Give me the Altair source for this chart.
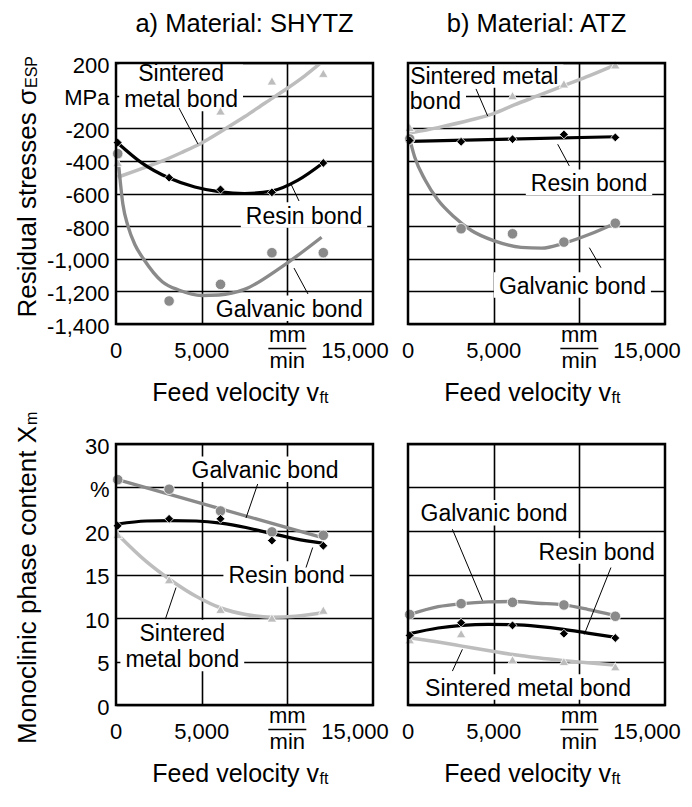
import altair as alt
import pandas as pd

FONT = "Liberation Sans"
W, H = 257, 261
SERIES = ["Resin bond", "Galvanic bond", "Sintered metal bond"]
LINE_COLORS = ["#000000", "#8a8a8a", "#bdbdbd"]

# ---------------- measured points ----------------
VFT = [100, 3100, 6100, 9100, 12100]            # feed velocity, mm/min
VFT_SINT_RS = [100, 6100, 9100, 12100]          # sintered bond, residual stress series

# residual stresses sigma_ESP, MPa
RS_SHYTZ_RESIN = [-288, -503, -575, -593, -413]
RS_SHYTZ_GALV = [-356, -1259, -1157, -963, -963]
RS_SHYTZ_SINT = [-410, -94, 90, 137]
RS_ATZ_RESIN = [-275, -283, -267, -238, -256]
RS_ATZ_GALV = [-266, -816, -847, -898, -782]
RS_ATZ_SINT = [-195, 0, 72, 189]

# monoclinic phase content X_m, %
XM_SHYTZ_GALV = [25.9, 24.8, 22.3, 19.9, 19.5]
XM_SHYTZ_RESIN = [20.6, 21.4, 21.4, 18.9, 18.3]
XM_SHYTZ_SINT = [19.6, 14.4, 11.0, 10.0, 10.9]
XM_ATZ_GALV = [10.4, 11.65, 11.8, 11.5, 10.2]
XM_ATZ_RESIN = [8.0, 9.46, 9.15, 8.2, 7.7]
XM_ATZ_SINT = [7.5, 8.2, 5.2, 5.0, 4.4]

# ---------------- trend curves ----------------
C_RS_SHYTZ_RESIN_X = [100, 1500, 3100, 4600, 6100, 7500, 9100, 10600, 12100]
C_RS_SHYTZ_RESIN_Y = [-290, -412, -505, -560, -590, -600, -585, -520, -412]
C_RS_SHYTZ_GALV_X = [150, 400, 700, 1100, 1600, 2700, 3700, 5000, 6000, 7500, 9500, 12000]
C_RS_SHYTZ_GALV_Y = [-420, -665, -800, -913, -1000, -1141, -1193, -1225, -1222, -1188, -1062, -868]
C_RS_SHYTZ_SINT_X = [100, 1300, 2600, 3800, 5000, 6200, 7500, 8700, 10000, 11000, 12000]
C_RS_SHYTZ_SINT_Y = [-500, -455, -405, -350, -290, -215, -130, -45, 45, 120, 205]

C_RS_ATZ_RESIN_X = [100, 12100]
C_RS_ATZ_RESIN_Y = [-280, -252]
C_RS_ATZ_GALV_X = [100, 400, 1000, 1750, 2700, 3700, 5000, 6600, 7800, 9100, 10600, 12100]
C_RS_ATZ_GALV_Y = [-266, -380, -517, -640, -744, -827, -889, -930, -935, -905, -850, -782]
C_RS_ATZ_SINT_X = [100, 1750, 3700, 5000, 6200, 7700, 9200, 10600, 12100]
C_RS_ATZ_SINT_Y = [-230, -196, -148, -110, -57, 4, 66, 123, 189]

C_XM_X = [100, 1760, 3160, 4670, 6120, 7580, 9090, 10480, 12040]
C_XM_SHYTZ_GALV_X = [100, 12100]
C_XM_SHYTZ_GALV_Y = [25.9, 19.2]
C_XM_SHYTZ_RESIN_Y = [20.8, 21.15, 21.2, 21.15, 20.9, 20.4, 19.7, 19.1, 18.6]
C_XM_SHYTZ_SINT_Y = [19.6, 16.5, 14.4, 12.5, 11.15, 10.4, 10.1, 10.2, 10.6]
C_XM_ATZ_GALV_Y = [10.4, 11.3, 11.65, 11.85, 11.9, 11.7, 11.5, 11.0, 10.3]
C_XM_ATZ_RESIN_Y = [8.2, 8.85, 9.15, 9.27, 9.23, 9.04, 8.7, 8.27, 7.8]
C_XM_ATZ_SINT_Y = [7.73, 7.23, 6.77, 6.27, 5.8, 5.42, 5.1, 4.85, 4.6]

# ---------------- annotations (data units; y = first baseline) ----------------
NOTES_RS_SHYTZ = [("Sintered\nmetal bond", 3800, 88),
                  ("Resin bond", 10973, -785), ("Galvanic bond", 10117, -1357)]
LEAD_RS_SHYTZ = [(3677, -76, 4786, -297), (10214, -542, 10681, -646), (10389, -1057, 11206, -1216)]
NOTES_RS_ATZ = [("Sintered metal", 4454, 73), ("bond", 1599, -84),
                ("Resin bond", 10565, -585), ("Galvanic bond", 9596, -1214)]
LEAD_RS_ATZ = [(3969, 41, 4651, -125), (8737, -298, 9416, -431), (10584, -932, 11265, -1055)]
NOTES_XM_SHYTZ = [("Galvanic bond", 8697, 26.1), ("Resin bond", 9958, 14.06),
                  ("Sintered\nmetal bond", 3870, 7.34)]
LEAD_XM_SHYTZ = [(8269, 25.4, 7588, 21.5), (11090, 15.8, 11479, 18.1), (2880, 9.87, 3502, 13.5)]
NOTES_XM_ATZ = [("Galvanic bond", 5020, 21.1), ("Resin bond", 11015, 16.7),
                ("Sintered metal bond", 7004, 1.07)]
LEAD_XM_ATZ = [(2591, 20.2, 4344, 12.0), (11845, 15.8, 10286, 8.1), (2591, 3.9, 3175, 6.4)]

XTICK_VALUES = [0, 5000]
XTICK_TEXT = ["0", "5,000"]

NOTE_FS = 23
NOTE_LH = 26
# approximate Helvetica/Arial advance widths (em) used to size the white label boxes
ADV = {"S": .667, "i": .222, "n": .556, "t": .278, "e": .556, "r": .333, "d": .556, " ": .278,
       "m": .833, "a": .556, "l": .222, "b": .556, "o": .556, "R": .722, "s": .5, "G": .778,
       "v": .5, "c": .5}


def box_path(text):
    lines = text.split("\n")
    w = max(sum(ADV.get(ch, .556) for ch in ln) for ln in lines) * NOTE_FS
    half = w / 2 + 5
    top = -0.716 * NOTE_FS - 5
    bottom = (len(lines) - 1) * NOTE_LH + 4
    return f"M{-half:.1f},{top:.1f}H{half:.1f}V{bottom:.1f}H{-half:.1f}Z"


def panel(kind, pts, curves, notes, leads, title, left):
    if kind == "rs":
        ydom = [-1400, 200]
        yvals = list(range(-1400, 201, 200))
        lab = ("datum.value == 0 ? 'MPa' : (datum.value < 0 ? '-' + format(-datum.value, ',') "
               ": format(datum.value, ','))")
    else:
        ydom = [0, 30]
        yvals = list(range(0, 31, 5))
        lab = "datum.value == 25 ? '%' : format(datum.value, 'd')"
    xs = alt.Scale(domain=[0, 15000], nice=False, zero=False)
    ys = alt.Scale(domain=ydom, nice=False, zero=False)
    xaxis = alt.Axis(values=[5000, 10000], labels=False, ticks=False, domain=False, grid=True,
                     gridColor="black", gridWidth=1.6, gridOpacity=1, title=None)
    yaxis = alt.Axis(values=yvals, labels=left, labelExpr=lab, ticks=False, domain=False, grid=True,
                     gridColor="black", gridWidth=1.6, gridOpacity=1, title=None, labelFont=FONT,
                     labelFontSize=22, labelColor="black", labelPadding=7, labelOffset=2)

    def X(f="x"):
        return alt.X(f"{f}:Q", scale=xs, axis=xaxis)

    def Y(f="y"):
        return alt.Y(f"{f}:Q", scale=ys, axis=yaxis)

    ndf = pd.DataFrame(notes, columns=["t", "x", "y"])
    ndf["box"] = [box_path(t) for t in ndf["t"]]

    layers = [
        # white label boxes, hiding the grid behind the labels
        alt.Chart(ndf).mark_point(filled=True, fill="white", size=4, opacity=1, strokeWidth=0).encode(
            x=X(), y=Y(), shape=alt.Shape("box:N", scale=None))
    ]

    rows = []
    for s, cx, cy in curves:
        for a, b in zip(cx, cy):
            rows.append({"series": s, "x": a, "y": b})
    cdf = pd.DataFrame(rows)
    layers.append(
        alt.Chart(cdf).mark_line(interpolate="monotone", clip=True).encode(
            x=X(), y=Y(),
            color=alt.Color("series:N", scale=alt.Scale(domain=SERIES, range=LINE_COLORS), legend=None),
            strokeWidth=alt.StrokeWidth("series:N", scale=alt.Scale(domain=SERIES, range=[3.2, 3.5, 3.5]),
                                        legend=None),
            detail="series:N"))
    styles = {
        "Galvanic bond": dict(shape="circle", size=110, fill="#8a8a8a"),
        "Sintered metal bond": dict(shape="triangle-up", size=90, fill="#bdbdbd"),
        "Resin bond": dict(shape="diamond", size=78, fill="black"),
    }
    for s in ["Sintered metal bond", "Galvanic bond", "Resin bond"]:
        px, py = pts[s]
        st = styles[s]
        layers.append(
            alt.Chart(pd.DataFrame({"x": px, "y": py})).mark_point(
                filled=True, shape=st["shape"], size=st["size"], fill=st["fill"], stroke="white",
                strokeWidth=0.8, opacity=1).encode(x=X(), y=Y()))
    ldf = pd.DataFrame(leads, columns=["x", "y", "x2", "y2"])
    layers.append(alt.Chart(ldf).mark_rule(color="black", strokeWidth=1).encode(
        x=X(), y=Y(), x2="x2:Q", y2="y2:Q"))
    layers.append(alt.Chart(ndf).mark_text(fill="black", font=FONT, fontSize=NOTE_FS,
                                           baseline="alphabetic", align="center",
                                           lineBreak="\n", lineHeight=NOTE_LH)
                  .encode(x=X(), y=Y(), text="t:N"))

    # frame
    layers.append(alt.Chart(pd.DataFrame({"a": [0]})).mark_rect(
        fill="transparent", stroke="black", strokeWidth=2.5).encode(
        x=alt.value(0), x2=alt.value(W), y=alt.value(0), y2=alt.value(H)))

    # x tick labels and unit
    tdf = pd.DataFrame({"x": XTICK_VALUES, "t": XTICK_TEXT})
    tick_txt = dict(font=FONT, fontSize=22, baseline="alphabetic", align="center", color="black")
    layers.append(alt.Chart(tdf).mark_text(**tick_txt).encode(x=X(), y=alt.value(H + 33.5), text="t:N"))
    layers.append(alt.Chart(pd.DataFrame({"x": [15000], "t": ["15,000"]})).mark_text(dx=-18, **tick_txt)
                  .encode(x=X(), y=alt.value(H + 33.5), text="t:N"))
    layers.append(alt.Chart(pd.DataFrame({"x": [10000], "t": ["mm\nmin"]})).mark_text(
        lineBreak="\n", lineHeight=26, **tick_txt)
        .encode(x=X(), y=alt.value(H + 17.75), text="t:N"))
    layers.append(alt.Chart(pd.DataFrame({"x": [10000]})).mark_tick(
        orient="horizontal", size=38, thickness=1.5, color="black", opacity=1)
        .encode(x=X(), y=alt.value(H + 24.5)))

    # x-axis title with subscript
    layers.append(alt.Chart(pd.DataFrame({"t": ["Feed velocity v"]})).mark_text(
        font=FONT, fontSize=25, baseline="alphabetic", align="right", color="black")
        .encode(x=alt.value(203), y=alt.value(H + 76.5), text="t:N"))
    layers.append(alt.Chart(pd.DataFrame({"t": ["ft"]})).mark_text(
        font=FONT, fontSize=16, baseline="alphabetic", align="left", color="black")
        .encode(x=alt.value(203.5), y=alt.value(H + 79), text="t:N"))

    # panel title
    if title:
        layers.append(alt.Chart(pd.DataFrame({"t": [title]})).mark_text(
            font=FONT, fontSize=25.5, baseline="alphabetic", align="center", color="black")
            .encode(x=alt.value(W / 2), y=alt.value(-31.3), text="t:N"))

    if left:
        if kind == "rs":
            main, sub, join = "Residual stresses σ", "ESP", 26
        else:
            main, sub, join = "Monoclinic phase content X", "m", -18
        layers.append(alt.Chart(pd.DataFrame({"t": [main]})).mark_text(
            font=FONT, fontSize=26, baseline="alphabetic", align="right", angle=270, color="black")
            .encode(x=alt.value(-80), y=alt.value(join), text="t:N"))
        layers.append(alt.Chart(pd.DataFrame({"t": [sub]})).mark_text(
            font=FONT, fontSize=16, baseline="alphabetic", align="left", angle=270, color="black")
            .encode(x=alt.value(-79), y=alt.value(join - 1), text="t:N"))
        if kind == "rs":
            layers.append(alt.Chart(pd.DataFrame({"a": [0]})).mark_point(
                size=0, opacity=0, strokeWidth=0).encode(x=alt.value(-107), y=alt.value(-54)))

    return alt.layer(*layers).properties(width=W, height=H)


tl = panel(
    "rs",
    {"Resin bond": (VFT, RS_SHYTZ_RESIN), "Galvanic bond": (VFT, RS_SHYTZ_GALV),
     "Sintered metal bond": (VFT_SINT_RS, RS_SHYTZ_SINT)},
    [("Sintered metal bond", C_RS_SHYTZ_SINT_X, C_RS_SHYTZ_SINT_Y),
     ("Galvanic bond", C_RS_SHYTZ_GALV_X, C_RS_SHYTZ_GALV_Y),
     ("Resin bond", C_RS_SHYTZ_RESIN_X, C_RS_SHYTZ_RESIN_Y)],
    NOTES_RS_SHYTZ, LEAD_RS_SHYTZ, "a) Material: SHYTZ", True)

tr = panel(
    "rs",
    {"Resin bond": (VFT, RS_ATZ_RESIN), "Galvanic bond": (VFT, RS_ATZ_GALV),
     "Sintered metal bond": (VFT_SINT_RS, RS_ATZ_SINT)},
    [("Sintered metal bond", C_RS_ATZ_SINT_X, C_RS_ATZ_SINT_Y),
     ("Galvanic bond", C_RS_ATZ_GALV_X, C_RS_ATZ_GALV_Y),
     ("Resin bond", C_RS_ATZ_RESIN_X, C_RS_ATZ_RESIN_Y)],
    NOTES_RS_ATZ, LEAD_RS_ATZ, "b) Material: ATZ", False)

bl = panel(
    "xm",
    {"Resin bond": (VFT, XM_SHYTZ_RESIN), "Galvanic bond": (VFT, XM_SHYTZ_GALV),
     "Sintered metal bond": (VFT, XM_SHYTZ_SINT)},
    [("Sintered metal bond", C_XM_X, C_XM_SHYTZ_SINT_Y),
     ("Galvanic bond", C_XM_SHYTZ_GALV_X, C_XM_SHYTZ_GALV_Y),
     ("Resin bond", C_XM_X, C_XM_SHYTZ_RESIN_Y)],
    NOTES_XM_SHYTZ, LEAD_XM_SHYTZ, None, True)

br = panel(
    "xm",
    {"Resin bond": (VFT, XM_ATZ_RESIN), "Galvanic bond": (VFT, XM_ATZ_GALV),
     "Sintered metal bond": (VFT, XM_ATZ_SINT)},
    [("Sintered metal bond", C_XM_X, C_XM_ATZ_SINT_Y),
     ("Galvanic bond", C_XM_X, C_XM_ATZ_GALV_Y),
     ("Resin bond", C_XM_X, C_XM_ATZ_RESIN_Y)],
    NOTES_XM_ATZ, LEAD_XM_ATZ, None, False)

chart = alt.concat(tl, tr, bl, br, columns=2, spacing={"row": 120, "column": 35},
                   bounds="flush").properties(padding=0).configure_view(stroke="transparent")

chart.save("out.html", embed_options={"renderer": "svg", "actions": False})
